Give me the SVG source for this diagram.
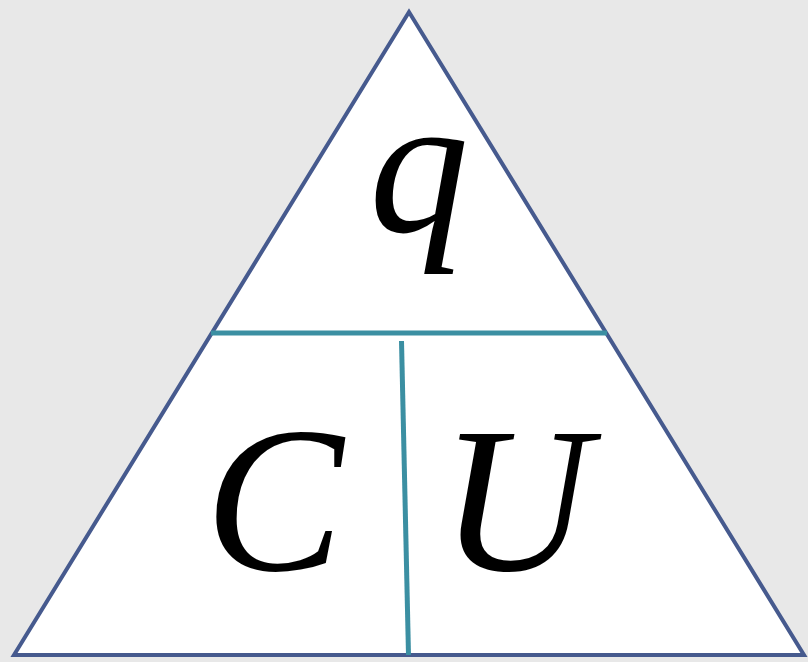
<svg xmlns="http://www.w3.org/2000/svg" width="808" height="662" viewBox="0 0 808 662">
<style>
.lbl{font-family:"Liberation Serif","Times New Roman",serif;font-style:italic;fill:#000;text-anchor:middle}
.div{stroke:#3b8fa2;stroke-width:5;fill:none}
</style>
<rect width="808" height="662" fill="#e8e8e8"/>
<g id="triangle">
<polygon points="409,12 14,655 804,655" fill="#fff" stroke="#465a8e" stroke-width="4" stroke-linejoin="miter"/>
</g>
<g id="connectors">
<line class="div" x1="211" y1="333" x2="607" y2="333"/>
<line class="div" x1="401.5" y1="341" x2="408.5" y2="655"/>
</g>
<g id="node-q"><text class="lbl" x="419" y="232" font-size="200">q</text></g>
<g id="node-C"><text class="lbl" x="274" y="570" font-size="208">C</text></g>
<g id="node-U"><text class="lbl" x="515" y="570" font-size="208">U</text></g>
</svg>
